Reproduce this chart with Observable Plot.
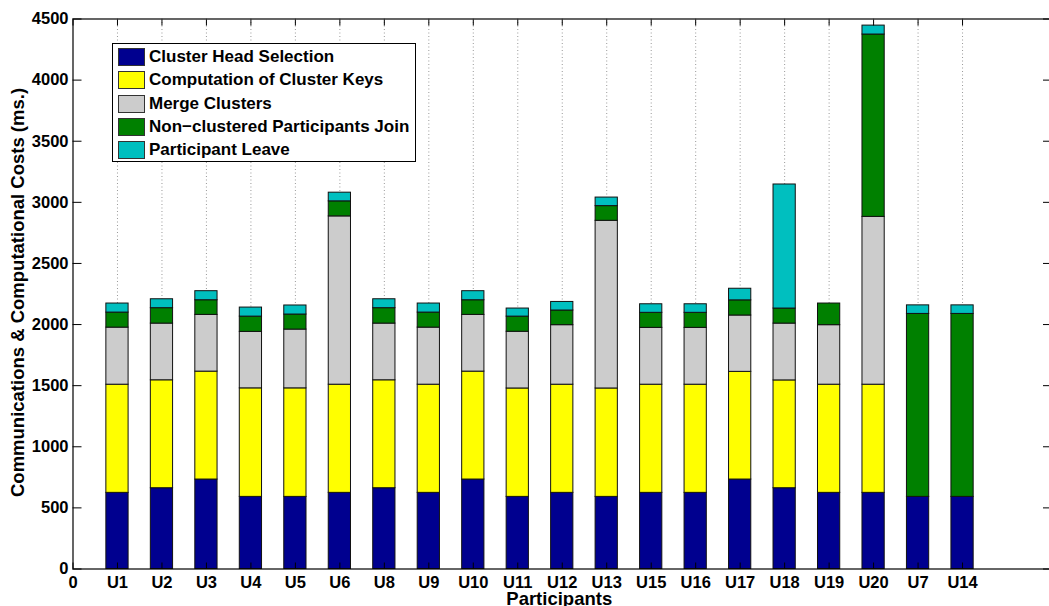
<!DOCTYPE html>
<html>
<head>
<meta charset="utf-8">
<script src="https://cdn.jsdelivr.net/npm/d3@7"></script>
<script src="https://cdn.jsdelivr.net/npm/@observablehq/plot@0.6"></script>
<style>
  html, body { margin: 0; padding: 0; background: #fff; }
  #wrap { position: relative; width: 1049px; height: 606px; overflow: hidden; font-family: "Liberation Sans", Arial, Helvetica, sans-serif; }
  #wrap svg text { font-weight: bold; }
  #legend { position: absolute; left: 112px; top: 43px; width: 302px; height: 117px; border: 1.5px solid #000; background: #fff; box-sizing: content-box; }
  .row { position: absolute; left: 5px; height: 18px; display: flex; align-items: center; }
  .sw { width: 25px; height: 16px; border: 1.2px solid #333; margin-right: 4px; }
  .lt { font-size: 17px; font-weight: bold; color: #000; white-space: nowrap; line-height: 18px; }
</style>
</head>
<body>
<div id="wrap"></div>
<script>
// ---- data ----
const categories = ["U1","U2","U3","U4","U5","U6","U8","U9","U10","U11","U12","U13","U15","U16","U17","U18","U19","U20","U7","U14"];
const seriesNames = ["Cluster Head Selection","Computation of Cluster Keys","Merge Clusters","Non\u2212clustered Participants Join","Participant Leave"];
const seriesColors = ["#00008f","#ffff00","#cccccc","#008000","#00bfbf"];
const headSelection = [623,661,732,590,590,623,661,623,732,590,623,590,623,623,732,661,623,623,590,590];
const clusterKeys   = [885,883,883,888,888,885,883,885,883,887,885,887,885,885,881,882,885,885,0,0];
const mergeClusters = [467,464,464,462,481,1377,464,467,464,464,487,1372,465,465,461,465,487,1373,0,0];
const nonClusteredJoin = [123,126,120,125,123,123,126,123,120,124,120,120,123,123,124,123,177,1492,1497,1497];
const participantLeave = [74,73,74,74,74,71,73,74,74,66,70,70,70,70,95,1015,0,73,70,70];
const yTicks = [0,500,1000,1500,2000,2500,3000,3500,4000,4500];
const xLabel = "Participants";
const yLabel = "Communications & Computational Costs (ms.)";

// ---- build stacked table ----
const seriesValues = [headSelection, clusterKeys, mergeClusters, nonClusteredJoin, participantLeave];
const rows = [];
categories.forEach((c, i) => {
  let acc = 0;
  seriesValues.forEach((vals, s) => {
    const v = vals[i];
    if (v > 0) rows.push({cat: c, pos: i + 1, series: seriesNames[s], y1: acc, y2: acc + v});
    acc += v;
  });
});
const xTicks = d3.range(0, categories.length + 1);
const halfWidth = 0.25;

const chart = Plot.plot({
  width: 1049,
  height: 606,
  marginLeft: 72.5,
  marginRight: -2,
  marginTop: 18.5,
  marginBottom: 37.5,
  style: {fontFamily: "'Liberation Sans', Arial, Helvetica, sans-serif", fontSize: "16.5px", color: "#000", background: "#fff"},
  x: {domain: [0, categories.length + 2], label: null},
  y: {domain: [0, 4500], label: null},
  color: {domain: seriesNames, range: seriesColors},
  marks: [
    Plot.gridX(xTicks.slice(1), {stroke: "#999", strokeOpacity: 1, strokeWidth: 1, strokeDasharray: "1,2.5"}),
    Plot.rect(rows, {x1: d => d.pos - halfWidth, x2: d => d.pos + halfWidth, y1: "y1", y2: "y2", fill: "series", stroke: "#111", strokeWidth: 1}),
    Plot.frame({stroke: "#000", strokeWidth: 1.2}),
    Plot.axisY({anchor: "left", ticks: yTicks, tickSize: -9, tickPadding: 13.5, tickFormat: d => String(d), label: null, fontSize: 16.5}),
    Plot.axisY({anchor: "right", ticks: yTicks, tickSize: -9, tickFormat: () => "", label: null}),
    Plot.axisX({anchor: "bottom", ticks: xTicks, tickSize: -6, tickPadding: 13.5, tickFormat: i => i === 0 ? "0" : categories[i - 1], label: null, fontSize: 16.5}),
    Plot.axisX({anchor: "top", ticks: xTicks, tickSize: -6, tickFormat: () => "", label: null}),
    Plot.text([yLabel], {text: d => d, frameAnchor: "left", textAnchor: "middle", lineAnchor: "middle", rotate: -90, dx: -55, dy: -1.5, fontSize: 18.5, fontWeight: "bold"}),
    Plot.text([xLabel], {text: d => d, frameAnchor: "bottom", textAnchor: "middle", lineAnchor: "middle", dy: 30, dx: -3, fontSize: 18.5, fontWeight: "bold"})
  ]
});

const wrap = document.getElementById("wrap");
wrap.appendChild(chart);

// legend (inside plot area, top-left)
const legend = document.createElement("div");
legend.id = "legend";
seriesNames.forEach((name, i) => {
  const row = document.createElement("div");
  row.className = "row";
  row.style.top = (4 + i * 23.3) + "px";
  const sw = document.createElement("div");
  sw.className = "sw";
  sw.style.background = seriesColors[i];
  const t = document.createElement("span");
  t.className = "lt";
  t.textContent = name;
  row.appendChild(sw);
  row.appendChild(t);
  legend.appendChild(row);
});
wrap.appendChild(legend);
</script>
</body>
</html>
